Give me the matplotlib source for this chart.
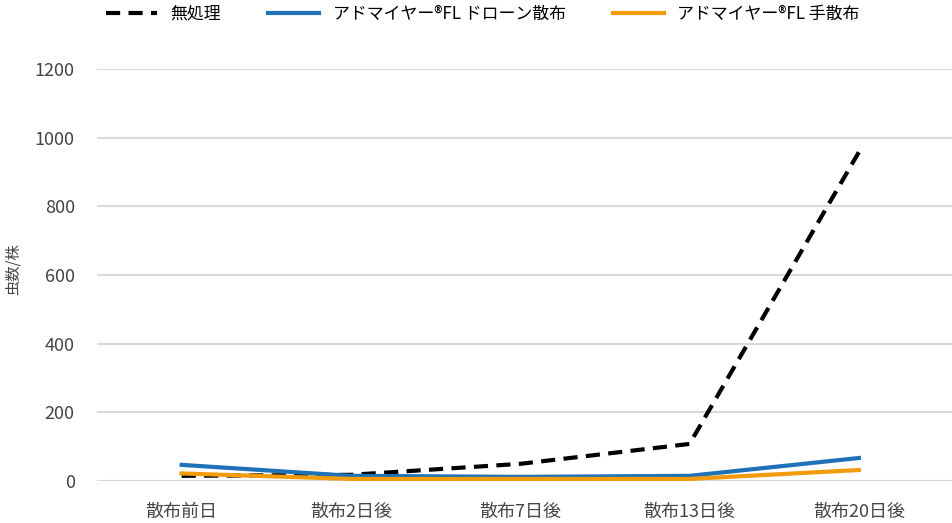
import matplotlib
matplotlib.use("Agg")
import matplotlib.pyplot as plt

plt.rcParams['font.family'] = ['Noto Sans CJK JP', 'DejaVu Sans']

# data
categories = ["散布前日", "散布2日後", "散布7日後", "散布13日後", "散布20日後"]
untreated = [15, 18, 50, 108, 958]
drone = [47, 15, 12, 15, 67]
hand = [22, 6, 6, 6, 32]
yticks = [0, 200, 400, 600, 800, 1000, 1200]

fig = plt.figure(figsize=(9.52, 5.23), dpi=100)
ax = fig.add_axes([97 / 952, 42 / 523, (952 - 97) / 952, (481 - 69) / 523])

x = range(len(categories))
ax.plot(x, untreated, color="black", lw=3, ls=(0, (3.4, 2.0)), label="無処理")
ax.plot(x, drone, color="#1f72b8", lw=3, label="アドマイヤー®FL ドローン散布")
ax.plot(x, hand, color="#f29b0c", lw=3, label="アドマイヤー®FL 手散布")

ax.set_xlim(-0.5, len(categories) - 0.45)
ax.set_ylim(0, 1200)
ax.set_yticks(yticks)
ax.set_xticks(list(x))
ax.set_xticklabels(categories)
ax.grid(axis="y", color="#d9d9d9", lw=1.5)
ax.set_axisbelow(True)
for s in ax.spines.values():
    s.set_visible(False)
ax.tick_params(length=0, labelsize=13, colors="#454545")
ax.tick_params(axis="y", pad=16)
ax.tick_params(axis="x", pad=16)
fig.text(13 / 952, 0.5 - 8 / 523, "虫数/株", rotation=90, fontsize=11, color="#454545",
         ha="center", va="center")

fig.legend(loc="upper left", bbox_to_anchor=(0.095, 1.02), ncol=3, frameon=False,
           fontsize=12.2, handlelength=3.0, columnspacing=2.8, handletextpad=0.8)

fig.savefig("out.png", dpi=100)
